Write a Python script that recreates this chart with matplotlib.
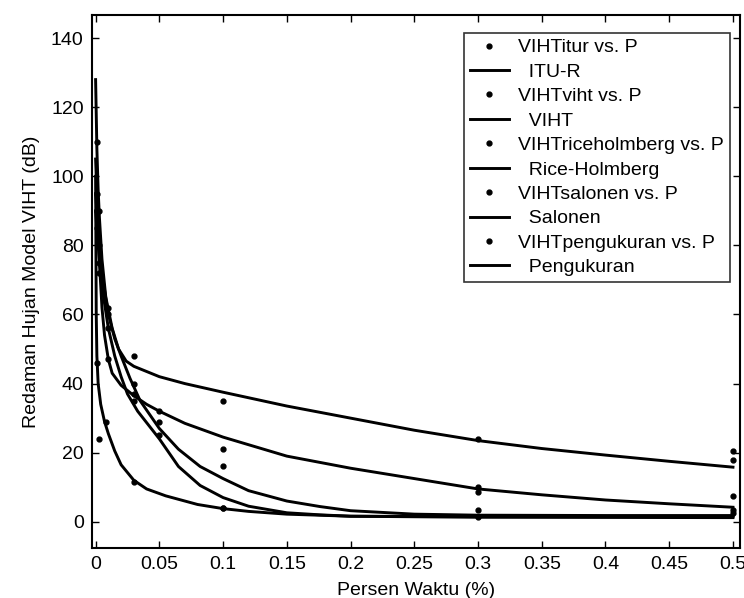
import matplotlib
matplotlib.use("Agg")
import matplotlib.pyplot as plt

plt.rcParams['font.family'] = ['Liberation Sans', 'DejaVu Sans']

# ---------------- data ----------------
series_names = ["VIHTitur vs. P", "VIHTviht vs. P", "VIHTriceholmberg vs. P",
                "VIHTsalonen vs. P", "VIHTpengukuran vs. P"]
fit_names = ["  ITU-R", "  VIHT", "  Rice-Holmberg", "  Salonen", "  Pengukuran"]

# measured / model points
p_itur = [0.001, 0.003, 0.01, 0.03, 0.1, 0.3, 0.5]
v_itur = [110, 90, 62, 48, 35, 24, 20.5]
p_viht = [0.001, 0.003, 0.01, 0.03, 0.05, 0.1, 0.3, 0.5]
v_viht = [95, 75, 47, 37, 32, 21, 10, 7.6]
p_rice = [0.001, 0.003, 0.01, 0.03, 0.05, 0.1, 0.3, 0.5]
v_rice = [90, 80, 60, 40, 29, 16, 8.5, 18]
p_salo = [0.001, 0.003, 0.01, 0.03, 0.05, 0.1, 0.3, 0.5]
v_salo = [85, 72, 56, 35, 25, 4, 3.3, 3.5]
p_peng = [0.001, 0.003, 0.008, 0.03, 0.1, 0.3, 0.5]
v_peng = [46, 24, 29, 11.5, 4, 1.5, 2.5]

# fitted curves
fx_itur = [0, 0.001, 0.002, 0.003, 0.005, 0.008, 0.013, 0.018, 0.024, 0.03, 0.04,
           0.05, 0.07, 0.1, 0.15, 0.2, 0.25, 0.3, 0.35, 0.4, 0.45, 0.5]
fy_itur = [128, 108, 96, 88, 76, 65, 56, 50, 46.5, 45, 43.5,
           42, 40, 37.5, 33.5, 30, 26.5, 23.5, 21.2, 19.3, 17.5, 15.8]
fx_viht = [0, 0.001, 0.002, 0.003, 0.005, 0.007, 0.01, 0.013, 0.02, 0.03, 0.04,
           0.05, 0.07, 0.1, 0.15, 0.2, 0.25, 0.3, 0.35, 0.4, 0.45, 0.5]
fy_viht = [105, 95, 85, 75, 62, 54, 47, 43, 39.5, 36.5, 34,
           32, 28.5, 24.5, 19, 15.5, 12.5, 9.5, 7.8, 6.3, 5.2, 4.2]
fx_rice = [0, 0.002, 0.005, 0.01, 0.015, 0.02, 0.027, 0.035, 0.05, 0.065, 0.082,
           0.1, 0.12, 0.15, 0.176, 0.2, 0.25, 0.3, 0.4, 0.5]
fy_rice = [95, 85, 72, 60, 53, 48, 41.5, 35, 27, 21, 16,
           12.5, 9, 6, 4.4, 3.2, 2.2, 1.9, 1.8, 1.8]
fx_salo = [0, 0.002, 0.005, 0.01, 0.015, 0.02, 0.025, 0.033, 0.05, 0.065, 0.082,
           0.1, 0.12, 0.15, 0.176, 0.2, 0.3, 0.5]
fy_salo = [90, 80, 68, 56, 48, 42, 37, 32, 24, 16, 10.5,
           7, 4.5, 2.6, 2, 1.6, 1.5, 1.5]
fx_peng = [0, 0.0005, 0.001, 0.002, 0.004, 0.007, 0.01, 0.015, 0.02, 0.03, 0.04,
           0.055, 0.08, 0.1, 0.12, 0.15, 0.2, 0.3, 0.5]
fy_peng = [100, 60, 48, 40, 34, 29, 25.5, 20.5, 16.5, 12, 9.5,
           7.5, 5, 3.8, 3, 2.2, 1.6, 1.3, 1.2]

x_ticks = [0, 0.05, 0.1, 0.15, 0.2, 0.25, 0.3, 0.35, 0.4, 0.45, 0.5]
x_ticklabels = ["0", "0.05", "0.1", "0.15", "0.2", "0.25", "0.3", "0.35", "0.4", "0.45", "0.5"]
y_ticks = [0, 20, 40, 60, 80, 100, 120, 140]

# ---------------- drawing ----------------
fig = plt.figure(figsize=(7.44, 5.98), dpi=100)
ax = fig.add_axes([0.1237, 0.0836, 0.8709, 0.8913])

points = [(p_itur, v_itur), (p_viht, v_viht), (p_rice, v_rice), (p_salo, v_salo), (p_peng, v_peng)]
fits = [(fx_itur, fy_itur), (fx_viht, fy_viht), (fx_rice, fy_rice), (fx_salo, fy_salo), (fx_peng, fy_peng)]

handles, labels = [], []
for (px, py), (fx, fy), sn, fn in zip(points, fits, series_names, fit_names):
    h1, = ax.plot(px, py, linestyle='none', marker='.', color='black', markersize=7)
    h2, = ax.plot(fx, fy, linestyle='-', color='black', linewidth=2.1)
    handles += [h1, h2]
    labels += [sn, fn]

ax.set_xlim(-0.0028, 0.5055)
ax.set_ylim(-7.6, 146.7)
ax.set_xticks(x_ticks)
ax.set_xticklabels(x_ticklabels)
ax.set_yticks(y_ticks)
ax.tick_params(direction='in', length=5, width=1, top=True, right=True,
               labelsize=14, colors='black', pad=6)
for s in ax.spines.values():
    s.set_linewidth(1.5)
    s.set_color('black')

ax.set_xlabel("Persen Waktu (%)", fontsize=14, labelpad=6)
ax.set_ylabel("Redaman Hujan Model VIHT (dB)", fontsize=14, labelpad=8)

leg = ax.legend(handles, labels, loc='upper right',
                bbox_to_anchor=(730 / 744, 1 - 33 / 598), bbox_transform=fig.transFigure,
                fontsize=14, frameon=True, fancybox=False, edgecolor='black',
                handlelength=2.0, handletextpad=0.5, labelspacing=0.35,
                borderpad=0.3, borderaxespad=0.0)
leg.get_frame().set_linewidth(1.2)

fig.savefig("out.png", dpi=100, facecolor='white')
